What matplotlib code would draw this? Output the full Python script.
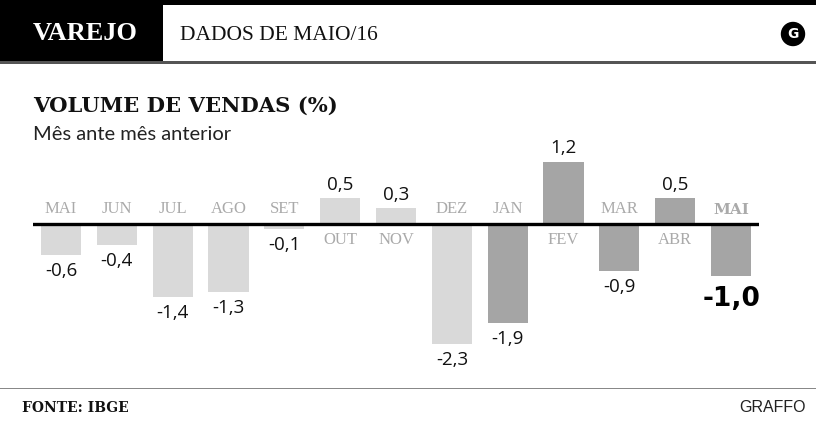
import matplotlib
matplotlib.use("Agg")
import matplotlib.pyplot as plt
from matplotlib.patches import Rectangle, Circle

# data
months = ["MAI", "JUN", "JUL", "AGO", "SET", "OUT", "NOV",
          "DEZ", "JAN", "FEV", "MAR", "ABR", "MAI"]
values = [-0.6, -0.4, -1.4, -1.3, -0.1, 0.5, 0.3,
          -2.3, -1.9, 1.2, -0.9, 0.5, -1.0]
labels = ["-0,6", "-0,4", "-1,4", "-1,3", "-0,1", "0,5", "0,3",
          "-2,3", "-1,9", "1,2", "-0,9", "0,5", "-1,0"]
n_light = 8  # MAI..DEZ light gray, JAN.. darker

W, H = 816, 426
LIGHT = "#d9d9d9"
DARK = "#a5a5a5"
LABEL_GRAY = "#aaaaaa"

fig = plt.figure(figsize=(W / 100, H / 100), dpi=100)

# overlay axes in pixel coords for header/footer
bg = fig.add_axes([0, 0, 1, 1])
bg.set_xlim(0, W)
bg.set_ylim(H, 0)
bg.axis("off")

bg.add_patch(Rectangle((0, 0), W, 5, color="black", lw=0))
bg.add_patch(Rectangle((0, 0), 163, 61, color="black", lw=0))
bg.add_patch(Rectangle((0, 61), W, 2.5, color="#555555", lw=0))
bg.text(85, 34, "VAREJO", color="white", fontsize=19, fontweight="bold",
        family="Liberation Serif", ha="center", va="center")
bg.text(180, 35, "DADOS DE MAIO/16", color="#111111", fontsize=15.5,
        family="Liberation Serif", ha="left", va="center")
bg.add_patch(Circle((793, 34), 11.5, color="black"))
bg.text(793, 34.5, "G", color="white", fontsize=10, fontweight="bold",
        family="DejaVu Sans", ha="center", va="center")

bg.text(33, 106, "VOLUME DE VENDAS (%)", fontsize=15.2, fontweight="heavy",
        family="DejaVu Serif", ha="left", va="center", color="#111111")
bg.text(33, 134, "Mês ante mês anterior", fontsize=14.5,
        family="Lato", ha="left", va="center", color="#222222")

bg.add_patch(Rectangle((0, 387.5), W, 1.5, color="#888888", lw=0))
bg.text(22, 408, "FONTE: IBGE", fontsize=10, fontweight="heavy",
        family="DejaVu Serif", ha="left", va="center", color="#111111")
bg.text(806, 408, "GRAFFO", fontsize=11.5, family="Liberation Sans",
        ha="right", va="center", color="#222222")

# bar chart axes: zero line at y=224 px, 52 px per unit
ymin, ymax = -2.6, 1.6
ppu = 52.0
top_px = 224 - ymax * ppu
bot_px = 224 - ymin * ppu
left_px, right_px = 33, 759
ax = fig.add_axes([left_px / W, (H - bot_px) / H,
                   (right_px - left_px) / W, (bot_px - top_px) / H])
ax.set_xlim(-0.5, len(months) - 0.5)
ax.set_ylim(ymin, ymax)
ax.axis("off")
ax.patch.set_alpha(0)

colors = [LIGHT if i < n_light else DARK for i in range(len(values))]
ax.bar(range(len(values)), values, width=0.72, color=colors, zorder=1)
ax.axhline(0, color="black", lw=2.4, zorder=3)

for i, (m, v, lab) in enumerate(zip(months, values, labels)):
    last = i == len(values) - 1
    # month label on the opposite side of the bar
    if v < 0:
        ax.annotate(m, (i, 0), xytext=(0, 5), textcoords="offset points",
                    ha="center", va="bottom",
                    fontsize=11 if last else 12, color=LABEL_GRAY,
                    family="DejaVu Serif" if last else "Liberation Serif",
                    fontweight="heavy" if last else "normal")
    else:
        ax.annotate(m, (i, 0), xytext=(0, -6), textcoords="offset points",
                    ha="center", va="top", fontsize=12, color=LABEL_GRAY,
                    family="Liberation Serif")
    if last:
        ax.annotate(lab, (i, v), xytext=(0, -7), textcoords="offset points",
                    ha="center", va="top", fontsize=19, fontweight="heavy",
                    family="DejaVu Sans", color="black")
    elif v < 0:
        ax.annotate(lab, (i, v), xytext=(0, -5), textcoords="offset points",
                    ha="center", va="top", fontsize=13.5, family="Open Sans",
                    color="#111111")
    else:
        ax.annotate(lab, (i, v), xytext=(0, 3), textcoords="offset points",
                    ha="center", va="bottom", fontsize=13.5, family="Open Sans",
                    color="#111111")

fig.savefig("out.png", dpi=100)
